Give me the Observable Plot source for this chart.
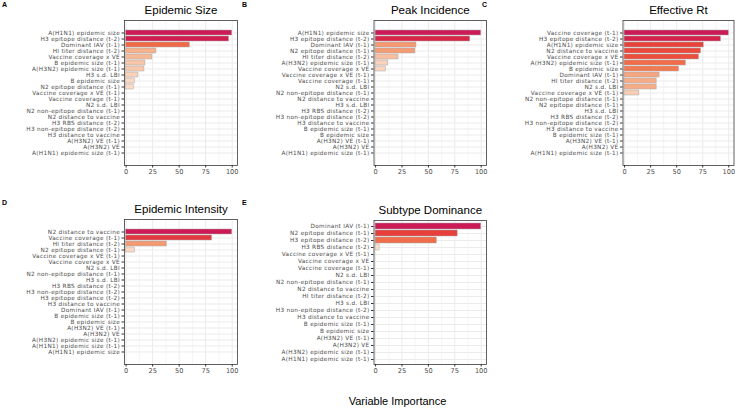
<!DOCTYPE html>
<html>
<head>
<meta charset="utf-8">
<script src="https://cdn.jsdelivr.net/npm/d3@7"></script>
<script src="https://cdn.jsdelivr.net/npm/@observablehq/plot@0.6"></script>
<style>
  body { margin: 0; background: #fff; font-family: "Liberation Sans", Arial, sans-serif; }
  #chart { position: relative; width: 735px; height: 409px; overflow: hidden; }
  #chart svg { position: absolute; }
  #chart svg g[aria-label="y-axis tick label"] { letter-spacing: 0.3px; }
  .letter { position: absolute; font-size: 7px; font-weight: bold; color: #000; line-height: 1; }
  .xlab { position: absolute; font-size: 11px; color: #000; line-height: 1; }
</style>
</head>
<body>
<div id="chart"></div>
<script>
// ---- Data ----
const titleA = "Epidemic Size";
const catsA = ["A(H1N1) epidemic size", "H3 epitope distance (t-2)", "Dominant IAV (t-1)", "HI titer distance (t-2)", "Vaccine coverage x VE", "B epidemic size (t-1)", "A(H3N2) epidemic size (t-1)", "H3 s.d. LBI", "B epidemic size", "N2 epitope distance (t-1)", "Vaccine coverage x VE (t-1)", "Vaccine coverage (t-1)", "N2 s.d. LBI", "N2 non-epitope distance (t-1)", "N2 distance to vaccine", "H3 RBS distance (t-2)", "H3 non-epitope distance (t-2)", "H3 distance to vaccine", "A(H3N2) VE (t-1)", "A(H3N2) VE", "A(H1N1) epidemic size (t-1)"];
const valsA = [100, 97, 60, 28.6, 24.8, 18.2, 17.3, 11.6, 8.2, 7.2, 0, 0, 0, 0, 0, 0, 0, 0, 0, 0, 0];

const titleB = "Peak Incidence";
const catsB = ["A(H1N1) epidemic size", "H3 epitope distance (t-2)", "Dominant IAV (t-1)", "N2 epitope distance (t-1)", "HI titer distance (t-2)", "A(H3N2) epidemic size (t-1)", "Vaccine coverage x VE", "Vaccine coverage x VE (t-1)", "Vaccine coverage (t-1)", "N2 s.d. LBI", "N2 non-epitope distance (t-1)", "N2 distance to vaccine", "H3 s.d. LBI", "H3 RBS distance (t-2)", "H3 non-epitope distance (t-2)", "H3 distance to vaccine", "B epidemic size (t-1)", "B epidemic size", "A(H3N2) VE (t-1)", "A(H3N2) VE", "A(H1N1) epidemic size (t-1)"];
const valsB = [100, 89.6, 38.7, 37.7, 21.7, 12, 9.7, 0, 0, 0, 0, 0, 0, 0, 0, 0, 0, 0, 0, 0, 0];

const titleC = "Effective Rt";
const catsC = ["Vaccine coverage (t-1)", "H3 epitope distance (t-2)", "A(H1N1) epidemic size", "N2 distance to vaccine", "Vaccine coverage x VE", "A(H3N2) epidemic size (t-1)", "B epidemic size", "Dominant IAV (t-1)", "HI titer distance (t-2)", "N2 s.d. LBI", "Vaccine coverage x VE (t-1)", "N2 non-epitope distance (t-1)", "N2 epitope distance (t-1)", "H3 s.d. LBI", "H3 RBS distance (t-2)", "H3 non-epitope distance (t-2)", "H3 distance to vaccine", "B epidemic size (t-1)", "A(H3N2) VE (t-1)", "A(H3N2) VE", "A(H1N1) epidemic size (t-1)"];
const valsC = [100, 92.5, 76, 73.3, 71.4, 58.8, 52.2, 33.6, 30.8, 30.8, 14.2, 0, 0, 0, 0, 0, 0, 0, 0, 0, 0];

const titleD = "Epidemic Intensity";
const catsD = ["N2 distance to vaccine", "Vaccine coverage (t-1)", "HI titer distance (t-2)", "N2 epitope distance (t-1)", "Vaccine coverage x VE (t-1)", "Vaccine coverage x VE", "N2 s.d. LBI", "N2 non-epitope distance (t-1)", "H3 s.d. LBI", "H3 RBS distance (t-2)", "H3 non-epitope distance (t-2)", "H3 epitope distance (t-2)", "H3 distance to vaccine", "Dominant IAV (t-1)", "B epidemic size (t-1)", "B epidemic size", "A(H3N2) VE (t-1)", "A(H3N2) VE", "A(H3N2) epidemic size (t-1)", "A(H1N1) epidemic size (t-1)", "A(H1N1) epidemic size"];
const valsD = [100, 81, 38.4, 8.2, 0, 0, 0, 0, 0, 0, 0, 0, 0, 0, 0, 0, 0, 0, 0, 0, 0];

const titleE = "Subtype Dominance";
const catsE = ["Dominant IAV (t-1)", "N2 epitope distance (t-1)", "H3 epitope distance (t-2)", "H3 RBS distance (t-2)", "Vaccine coverage x VE (t-1)", "Vaccine coverage x VE", "Vaccine coverage (t-1)", "N2 s.d. LBI", "N2 non-epitope distance (t-1)", "N2 distance to vaccine", "HI titer distance (t-2)", "H3 s.d. LBI", "H3 non-epitope distance (t-2)", "H3 distance to vaccine", "B epidemic size (t-1)", "B epidemic size", "A(H3N2) VE (t-1)", "A(H3N2) VE", "A(H3N2) epidemic size (t-1)", "A(H1N1) epidemic size (t-1)"];
const valsE = [100, 77.7, 57.9, 3.8, 0, 0, 0, 0, 0, 0, 0, 0, 0, 0, 0, 0, 0, 0, 0, 0];

const xTicks = [0, 25, 50, 75, 100];
const xMinor = [12.5, 37.5, 62.5, 87.5];
const xLabel = "Variable Importance";

// ---- Drawing ----
const FONT = "'Liberation Sans', Arial, sans-serif";
const TICKFONT = "'DejaVu Sans', 'Liberation Sans', sans-serif";
const colorScale = {
  type: "linear",
  domain: [0, 10, 30, 50, 60, 75, 90, 100],
  range: ["#fbe5d6", "#fad5bf", "#f6ae88", "#f27e56", "#f06a48", "#e9453a", "#d72547", "#cb1a55"]
};

function panel({title, cats, vals, left, top, width, height, mLeft, mRight}) {
  const data = cats.map((c, i) => ({cat: c, val: vals[i]}));
  const svg = Plot.plot({
    width, height,
    marginLeft: mLeft, marginRight: mRight, marginTop: 20, marginBottom: 20,
    style: {fontFamily: FONT, background: "transparent", overflow: "visible"},
    x: {domain: [-1.5, 105]},
    y: {domain: cats, padding: 0.2},
    color: colorScale,
    marks: [
      Plot.ruleX(xMinor, {stroke: "#ebebeb", strokeWidth: 0.5}),
      Plot.ruleX(xTicks, {stroke: "#ebebeb", strokeWidth: 1}),
      Plot.gridY({stroke: "#ebebeb", strokeOpacity: 1, strokeWidth: 1}),
      Plot.barX(data, {y: "cat", x: "val", fill: "val", stroke: "#a8a8a8", strokeWidth: 0.5}),
      Plot.frame({stroke: "#3a3a3a", strokeWidth: 0.8}),
      Plot.axisX({ticks: xTicks, tickSize: 2.5, tickPadding: 1.5, fontSize: 6.6, fontFamily: TICKFONT, color: "#4d4d4d", stroke: "#333", label: null}),
      Plot.axisY({tickSize: 2.5, tickPadding: 2, fontSize: 5.75, fontFamily: TICKFONT, color: "#4d4d4d", stroke: "#333", label: null}),
      Plot.text([title], {frameAnchor: "top", lineAnchor: "middle", dy: -10, fontSize: 11.5, fill: "#000"})
    ]
  });
  svg.style.left = left + "px";
  svg.style.top = top + "px";
  return svg;
}

const chart = document.getElementById("chart");
chart.appendChild(panel({title: titleA, cats: catsA, vals: valsA, left: 0, top: 0, width: 240, height: 185, mLeft: 124, mRight: 3}));
chart.appendChild(panel({title: titleB, cats: catsB, vals: valsB, left: 240, top: 0, width: 250, height: 185, mLeft: 133.5, mRight: 4}));
chart.appendChild(panel({title: titleC, cats: catsC, vals: valsC, left: 480, top: 0, width: 255, height: 185, mLeft: 142.5, mRight: 1.5}));
chart.appendChild(panel({title: titleD, cats: catsD, vals: valsD, left: 0, top: 199, width: 240, height: 185, mLeft: 124, mRight: 3}));
chart.appendChild(panel({title: titleE, cats: catsE, vals: valsE, left: 240, top: 200, width: 250, height: 184, mLeft: 133.5, mRight: 4}));

const letters = [["A", 2, 1], ["B", 242, 1], ["C", 482, 1], ["D", 2, 199], ["E", 242, 199]];
for (const [t, x, y] of letters) {
  const d = document.createElement("div");
  d.className = "letter";
  d.textContent = t;
  d.style.left = x + "px";
  d.style.top = y + "px";
  chart.appendChild(d);
}
const xl = document.createElement("div");
xl.className = "xlab";
xl.textContent = xLabel;
xl.style.left = "0px";
xl.style.width = "795px";
xl.style.textAlign = "center";
xl.style.top = "396px";
chart.appendChild(xl);
</script>
</body>
</html>
